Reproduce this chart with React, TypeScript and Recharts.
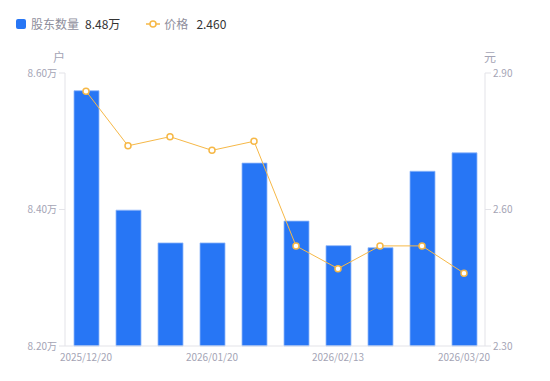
import { ComposedChart, Bar, Line, XAxis, YAxis } from 'recharts'

const dates = [
  '2025/12/20',
  '2025/12/31',
  '2026/01/09',
  '2026/01/20',
  '2026/01/30',
  '2026/02/06',
  '2026/02/13',
  '2026/02/28',
  '2026/03/10',
  '2026/03/20',
]
const holders = [8.574, 8.399, 8.351, 8.351, 8.468, 8.383, 8.347, 8.344, 8.456, 8.483]
const prices = [2.86, 2.74, 2.76, 2.73, 2.75, 2.52, 2.47, 2.52, 2.52, 2.46]
const holderTicks = [8.2, 8.4, 8.6]
const priceTicks = [2.3, 2.6, 2.9]

const data = dates.map((date, i) => ({ date, holders: holders[i], price: prices[i] }))

const barColor = '#2776F5'
const lineColor = '#F6B847'
const tickColor = '#a4a4b5'
const axisColor = '#e3e3e8'
const font = '"Noto Sans CJK SC", "Noto Sans", sans-serif'

export default function App() {
  const lastHolders = holders[holders.length - 1]
  const lastPrice = prices[prices.length - 1]
  return (
    <div style={{ position: 'absolute', left: 0, top: 0, width: 550, height: 381, background: '#fff', fontFamily: font }}>
      <div style={{ position: 'absolute', left: 16, top: 15, display: 'flex', alignItems: 'center', fontSize: 12, lineHeight: '18px' }}>
        <span style={{ width: 10, height: 10, background: barColor, borderRadius: 2, display: 'inline-block', marginRight: 5 }} />
        <span style={{ color: '#8e8e9c' }}>股东数量</span>
        <span style={{ color: '#333', marginLeft: 6 }}>{lastHolders.toFixed(2)}万</span>
        <svg width={14} height={10} style={{ marginLeft: 26, marginRight: 4 }}>
          <line x1={0} y1={5} x2={14} y2={5} stroke={lineColor} strokeWidth={1.5} />
          <circle cx={7} cy={5} r={3} fill="#fff" stroke={lineColor} strokeWidth={1.5} />
        </svg>
        <span style={{ color: '#8e8e9c' }}>价格</span>
        <span style={{ color: '#333', marginLeft: 8 }}>{lastPrice.toFixed(3)}</span>
      </div>
      <span style={{ position: 'absolute', left: 53, top: 48, fontSize: 12, color: tickColor }}>户</span>
      <span style={{ position: 'absolute', left: 484, top: 48, fontSize: 12, color: tickColor }}>元</span>
      <ComposedChart
        width={550}
        height={381}
        data={data}
        margin={{ top: 73, right: 5, bottom: 5, left: 5 }}
        style={{ fontFamily: font }}
      >
        <XAxis
          dataKey="date"
          interval={2}
          tickLine={false}
          axisLine={{ stroke: axisColor }}
          tick={{ fill: tickColor, fontSize: 10 }}
          height={30}
        />
        <YAxis
          yAxisId="left"
          domain={[8.2, 8.6]}
          ticks={holderTicks}
          tickFormatter={(v: number) => `${v.toFixed(2)}万`}
          tick={{ fill: tickColor, fontSize: 10 }}
          tickLine={{ stroke: axisColor }}
          axisLine={{ stroke: axisColor }}
          width={60}
        />
        <YAxis
          yAxisId="right"
          orientation="right"
          domain={[2.3, 2.9]}
          ticks={priceTicks}
          tickFormatter={(v: number) => v.toFixed(2)}
          tick={{ fill: tickColor, fontSize: 10 }}
          tickLine={{ stroke: axisColor }}
          axisLine={{ stroke: axisColor }}
          width={60}
        />
        <Bar
          yAxisId="left"
          dataKey="holders"
          fill={barColor}
          stroke="#8fb8fa"
          strokeWidth={0.8}
          barSize={25}
          isAnimationActive={false}
        />
        <Line
          yAxisId="right"
          dataKey="price"
          type="linear"
          stroke={lineColor}
          strokeWidth={1}
          dot={{ r: 3, fill: '#fff', stroke: lineColor, strokeWidth: 1.5 }}
          isAnimationActive={false}
        />
      </ComposedChart>
    </div>
  )
}
